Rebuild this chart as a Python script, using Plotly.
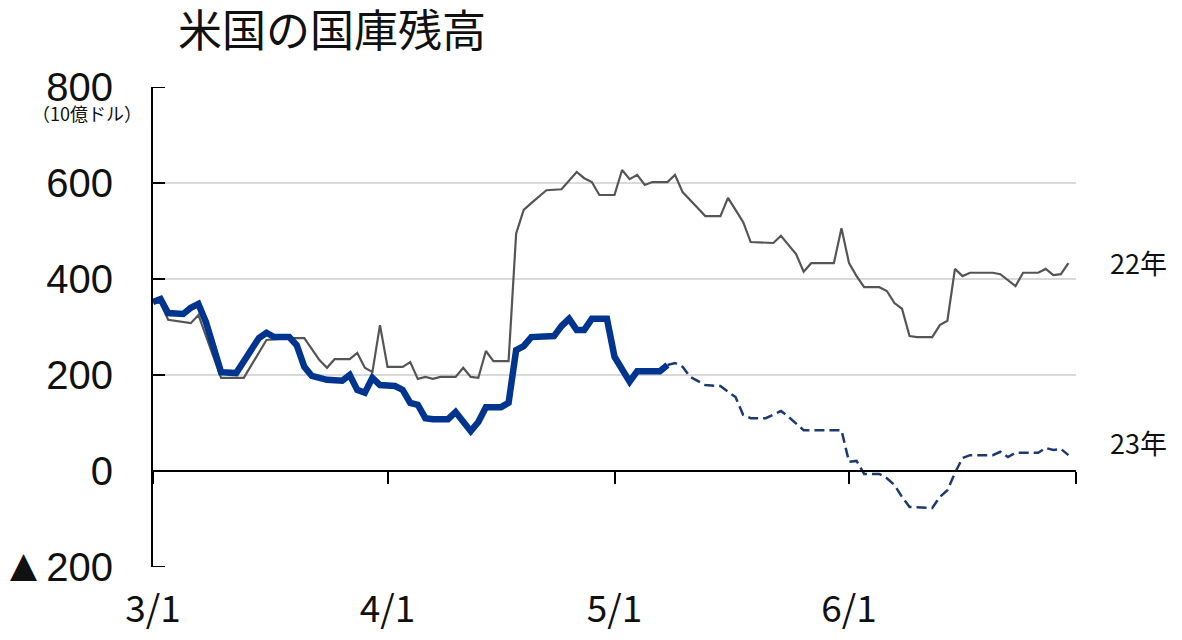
import plotly.graph_objects as go

# Common axis year so both years share the month/day axis
YEAR = "2023-"

# 22年 (grey)
days_22 = [
    "03-01", "03-02", "03-03", "03-06", "03-07", "03-10", "03-13", "03-16", "03-19", "03-21",
    "03-23", "03-24", "03-25", "03-27", "03-28", "03-29", "03-30", "03-31", "04-01", "04-03",
    "04-04", "04-05", "04-06", "04-07", "04-08", "04-10", "04-11", "04-12", "04-13", "04-14",
    "04-15", "04-17", "04-18", "04-19", "04-20", "04-21", "04-22", "04-24", "04-25", "04-26",
    "04-27", "04-28", "04-29", "05-01", "05-02", "05-03", "05-04", "05-05", "05-06", "05-08",
    "05-09", "05-10", "05-12", "05-13", "05-15", "05-16", "05-17", "05-18", "05-19", "05-21",
    "05-22", "05-23", "05-24", "05-25", "05-26", "05-27", "05-30", "05-31", "06-01", "06-02",
    "06-03", "06-05", "06-06", "06-07", "06-08", "06-09", "06-10", "06-12", "06-13", "06-14",
    "06-15", "06-16", "06-17", "06-20", "06-21", "06-22", "06-23", "06-24", "06-26", "06-27",
    "06-28", "06-29", "06-30",
]
vals_22 = [
    352, 350, 315, 308, 325, 194, 194, 273, 277, 277,
    231, 215, 233, 233, 246, 215, 206, 304, 217, 217,
    227, 192, 196, 192, 196, 196, 215, 196, 194, 250,
    229, 229, 495, 544, 558, 571, 585, 587, 606, 623,
    610, 602, 575, 575, 627, 608, 617, 596, 602, 602,
    617, 581, 548, 531, 531, 569, 544, 519, 477, 475,
    475, 490, 471, 452, 415, 433, 433, 506, 433, 406,
    383, 383, 375, 350, 338, 281, 279, 279, 304, 313,
    421, 406, 413, 413, 410, 398, 385, 413, 413, 421,
    408, 410, 433,
]

# 23年 actual (thick blue)
days_23 = [
    "03-01", "03-02", "03-03", "03-05", "03-06", "03-07", "03-08", "03-10", "03-12", "03-13",
    "03-15", "03-16", "03-17", "03-19", "03-20", "03-21", "03-22", "03-24", "03-26", "03-27",
    "03-28", "03-29", "03-30", "03-31", "04-02", "04-03", "04-04", "04-05", "04-06", "04-07",
    "04-09", "04-10", "04-11", "04-12", "04-13", "04-14", "04-16", "04-17", "04-18", "04-19",
    "04-20", "04-22", "04-23", "04-24", "04-25", "04-26", "04-27", "04-28", "04-30", "05-01",
    "05-02", "05-03", "05-04", "05-07", "05-08",
]
vals_23 = [
    352, 358, 329, 327, 340, 348, 310, 206, 204, 227,
    277, 288, 279, 279, 262, 217, 198, 190, 188, 200,
    169, 163, 194, 179, 177, 169, 142, 138, 110, 108,
    108, 123, 102, 83, 102, 133, 133, 142, 252, 260,
    279, 281, 281, 302, 317, 294, 294, 317, 317, 238,
    210, 186, 208, 208, 221,
]

# 23年 projection (dashed)
days_23p = [
    "05-08", "05-09", "05-10", "05-11", "05-13", "05-15", "05-16", "05-17", "05-18", "05-19",
    "05-21", "05-23", "05-24", "05-26", "05-31", "06-01", "06-02", "06-03", "06-05", "06-06",
    "06-07", "06-08", "06-09", "06-12", "06-13", "06-14", "06-15", "06-16", "06-17", "06-20",
    "06-21", "06-22", "06-23", "06-26", "06-27", "06-28", "06-29", "06-30",
]
vals_23p = [
    221, 225, 217, 196, 179, 177, 165, 154, 117, 110,
    110, 125, 113, 85, 85, 19, 21, -6, -6, -15,
    -29, -54, -75, -77, -54, -40, -4, 27, 33, 33,
    40, 29, 38, 38, 48, 44, 46, 33,
]

x_ticks = ["03-01", "04-01", "05-01", "06-01", "07-01"]
x_ticklabels = ["3/1", "4/1", "5/1", "6/1", ""]
y_ticks = [-200, 0, 200, 400, 600, 800]
y_ticklabels = ["<span style='font-size:46px'>▲</span>200", "0", "200", "400", "600", "800"]

x_range = [YEAR + "03-01", YEAR + "07-01"]
y_range = [-200, 800]
font_main = "Liberation Sans, Arial, DejaVu Sans, sans-serif"
font_jp = "Noto Sans CJK JP, sans-serif"

# page body has an 8px margin, so the figure is a bit smaller than the window
W, H = 1166, 624

fig = go.Figure()

fig.add_trace(go.Scatter(
    x=[YEAR + d for d in days_22], y=vals_22, mode="lines",
    line=dict(color="#555555", width=2.2), name="22年", hoverinfo="skip"
))
fig.add_trace(go.Scatter(
    x=[YEAR + d for d in days_23], y=vals_23, mode="lines",
    line=dict(color="#00358f", width=6.5), name="23年", hoverinfo="skip"
))
fig.add_trace(go.Scatter(
    x=[YEAR + d for d in days_23p], y=vals_23p, mode="lines",
    line=dict(color="#1b3a6e", width=2.5, dash="10px,5px"), name="23年見通し", hoverinfo="skip"
))

# short inward tick marks on the y axis line
for v in y_ticks:
    fig.add_shape(type="line", xref="paper", yref="y", xsizemode="pixel", xanchor=0,
                  x0=0, x1=12, y0=v, y1=v, line=dict(color="black", width=2), layer="above")

fig.update_layout(
    width=W, height=H,
    margin=dict(l=145, r=98, t=79, b=65),
    plot_bgcolor="white", paper_bgcolor="white",
    showlegend=False,
    title=dict(
        text="米国の国庫残高",
        font=dict(family=font_jp, size=44, color="#111111"),
        xref="container", x=170 / W, xanchor="left",
        yref="container", y=1 - 24 / H, yanchor="middle",
    ),
    # x axis sits on the zero line, labels pushed down to the bottom
    xaxis=dict(
        range=x_range, type="date", automargin=False,
        anchor="free", position=0.2,
        tickvals=[YEAR + d for d in x_ticks], ticktext=x_ticklabels,
        ticks="outside", ticklen=12, tickwidth=2, tickcolor="black",
        showline=True, linecolor="black", linewidth=2,
        showgrid=False, zeroline=False,
        ticklabelstandoff=94,
        tickfont=dict(family=font_jp, size=37, color="#111111"),
    ),
    yaxis=dict(
        range=y_range, tickvals=y_ticks, ticktext=y_ticklabels, automargin=False,
        ticks="", showline=True, linecolor="black", linewidth=2,
        showgrid=True, gridcolor="#d9d9d9", gridwidth=1.5, zeroline=False,
        ticklabelstandoff=30,
        tickfont=dict(family=font_main, size=40, color="#111111"),
    ),
    annotations=[
        dict(text="（10億ドル）", xref="paper", yref="paper", x=-0.01, y=0.946,
             xanchor="right", yanchor="middle", showarrow=False,
             font=dict(family=font_jp, size=18, color="#111111")),
        dict(text="22年", xref="paper", yref="y", x=1.035, y=435,
             xanchor="left", yanchor="middle", showarrow=False,
             font=dict(family=font_jp, size=27, color="#111111")),
        dict(text="23年", xref="paper", yref="y", x=1.035, y=60,
             xanchor="left", yanchor="middle", showarrow=False,
             font=dict(family=font_jp, size=27, color="#111111")),
    ],
)

fig.write_html("out.html")
